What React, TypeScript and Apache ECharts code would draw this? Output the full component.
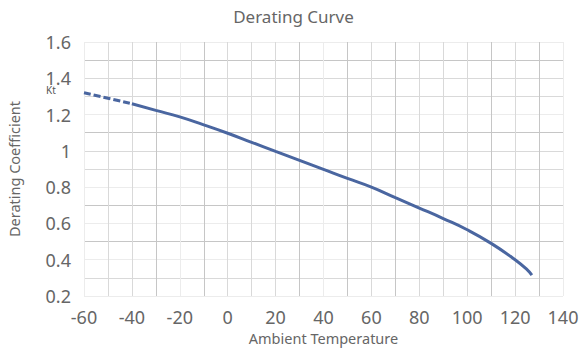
import React, { useEffect, useRef } from "react";
import * as echarts from "echarts";

const dashedPart: [number, number][] = [
  [-60, 1.32],
  [-50, 1.29],
  [-40, 1.26],
];
const solidPart: [number, number][] = [
  [-40, 1.26],
  [-30, 1.223],
  [-20, 1.187],
  [-10, 1.143],
  [0, 1.097],
  [10, 1.047],
  [20, 0.997],
  [30, 0.948],
  [40, 0.898],
  [50, 0.848],
  [60, 0.8],
  [70, 0.742],
  [80, 0.685],
  [90, 0.627],
  [100, 0.565],
  [110, 0.49],
  [120, 0.4],
  [125, 0.345],
  [127, 0.315],
];

const F = "#ececec";
const M = "#d9d9d9";
const D = "#c6c6c6";
// grid line shades from -60 to 140 step 10
const xLineColors = [F, M, M, D, F, D, M, M, M, D, F, D, M, D, M, M, M, D, M, D, F];
// grid line shades from 0.2 to 1.6 step 0.1
const yLineColors = [F, M, F, D, F, D, F, M, M, D, F, M, M, D, F];

const FONT = "'Noto Sans', sans-serif";
const TXT = "#666666";

export default function App() {
  const ref = useRef<HTMLDivElement>(null);
  useEffect(() => {
    if (!ref.current) return;
    const chart = echarts.init(ref.current, undefined, { renderer: "svg" });
    chart.setOption({
      animation: false,
      title: {
        text: "Derating Curve",
        left: "center",
        top: 3,
        textStyle: { fontFamily: FONT, fontSize: 17, fontWeight: "normal", color: TXT },
      },
      grid: { left: 84, right: 24, top: 42, bottom: 61, containLabel: false, outerBoundsMode: "none" },
      xAxis: {
        type: "value",
        min: -60,
        max: 140,
        interval: 10,
        name: "Ambient Temperature",
        nameLocation: "middle",
        nameGap: 33,
        nameTextStyle: { fontFamily: FONT, fontSize: 14.5, color: TXT },
        axisLine: { show: false },
        axisTick: { show: false },
        axisLabel: {
          fontFamily: FONT,
          fontSize: 18,
          color: TXT,
          margin: 12,
          formatter: (v: number) => (Math.round(v) % 20 === 0 ? String(Math.round(v)) : ""),
        },
        splitLine: { show: true, lineStyle: { color: xLineColors, width: 1 } },
      },
      yAxis: {
        type: "value",
        min: 0.2,
        max: 1.6,
        interval: 0.1,
        name: "Derating Coefficient",
        nameLocation: "middle",
        nameGap: 63,
        nameTextStyle: { fontFamily: FONT, fontSize: 14.5, color: TXT },
        axisLine: { show: false },
        axisTick: { show: false },
        axisLabel: {
          fontFamily: FONT,
          fontSize: 18,
          color: TXT,
          margin: 13,
          formatter: (v: number) => {
            const k = Math.round(v * 10);
            return k % 2 === 0 ? String(k / 10) : "";
          },
        },
        splitLine: { show: true, lineStyle: { color: yLineColors, width: 1 } },
      },
      graphic: [
        {
          type: "text",
          left: 46,
          top: 85,
          style: { text: "Kt", fontFamily: FONT, fontSize: 10, fill: "#555" },
        },
      ],
      series: [
        {
          type: "line",
          data: dashedPart,
          smooth: true,
          symbol: "none",
          lineStyle: { color: "#4a66a0", width: 3, type: [7, 3] },
        },
        {
          type: "line",
          data: solidPart,
          smooth: true,
          symbol: "none",
          lineStyle: { color: "#4a66a0", width: 3 },
        },
      ],
    });
    return () => chart.dispose();
  }, []);
  return (
    <div
      ref={ref}
      style={{ position: "absolute", left: 0, top: 0, width: 587, height: 357 }}
    />
  );
}
